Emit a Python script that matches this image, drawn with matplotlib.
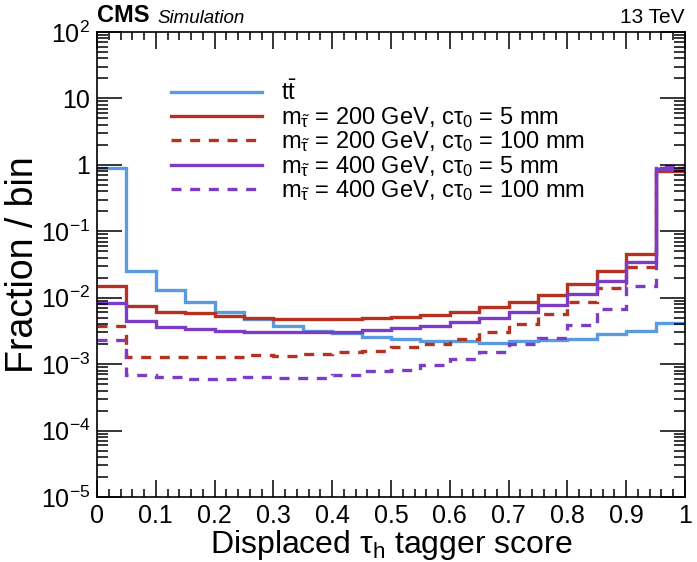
import numpy as np
import matplotlib
matplotlib.use("Agg")
import matplotlib.pyplot as plt
from matplotlib.ticker import FixedLocator, FuncFormatter, LogLocator, NullFormatter

plt.rcParams['font.family'] = ['Liberation Sans', 'DejaVu Sans']
plt.rcParams['mathtext.fontset'] = 'custom'
plt.rcParams['mathtext.rm'] = 'Liberation Sans'
plt.rcParams['mathtext.it'] = 'Liberation Sans'
plt.rcParams['mathtext.bf'] = 'Liberation Sans:bold'

# bin edges of the tagger score, 20 bins of 0.05
edges = np.linspace(0, 1, 21)

ttbar = [0.9, 0.025, 0.013, 0.0087, 0.006, 0.0047, 0.0038, 0.0032, 0.0029, 0.0026,
         0.0024, 0.0022, 0.0022, 0.0021, 0.0022, 0.0023, 0.0024, 0.0028, 0.0032, 0.0042]
m200_5mm = [0.015, 0.0074, 0.0062, 0.0059, 0.0053, 0.0049, 0.0048, 0.0047, 0.0047, 0.0049,
            0.0052, 0.0055, 0.0061, 0.0072, 0.0087, 0.011, 0.016, 0.025, 0.046, 0.81]
m200_100mm = [0.0038, 0.0013, 0.0013, 0.0013, 0.0013, 0.00135, 0.00132, 0.0014, 0.0015, 0.0016,
              0.0018, 0.0020, 0.0024, 0.003, 0.004, 0.0057, 0.0085, 0.014, 0.029, 0.91]
m400_5mm = [0.0082, 0.0044, 0.0036, 0.0034, 0.0032, 0.0031, 0.0031, 0.0031, 0.003, 0.0033,
            0.0035, 0.0038, 0.0043, 0.005, 0.0061, 0.0079, 0.0112, 0.018, 0.035, 0.87]
m400_100mm = [0.0023, 0.00068, 0.00064, 0.0006, 0.0006, 0.00064, 0.00062, 0.00062, 0.00068, 0.00079,
              0.00083, 0.00096, 0.0012, 0.0015, 0.002, 0.0025, 0.0039, 0.0067, 0.015, 0.96]

labels = [r"t$\bar{\mathrm{t}}$",
          r"m$_{\tilde{\tau}}$ = 200 GeV, c$\tau_0$ = 5 mm",
          r"m$_{\tilde{\tau}}$ = 200 GeV, c$\tau_0$ = 100 mm",
          r"m$_{\tilde{\tau}}$ = 400 GeV, c$\tau_0$ = 5 mm",
          r"m$_{\tilde{\tau}}$ = 400 GeV, c$\tau_0$ = 100 mm"]

blue = '#5a9be0'
red = '#b5321f'
purple = '#7d3cc6'

fig = plt.figure(figsize=(6.97, 5.62), dpi=100)
ax = fig.add_axes([97 / 697, 65 / 562, 588 / 697, 465 / 562])

lw = 2.4
dash = (0, (3, 2.6))
ax.stairs(ttbar, edges, baseline=None, color=blue, lw=lw, label=labels[0])
ax.stairs(m200_5mm, edges, baseline=None, color=red, lw=lw, label=labels[1])
ax.stairs(m200_100mm, edges, baseline=None, color=red, lw=lw, ls=dash, label=labels[2])
ax.stairs(m400_5mm, edges, baseline=None, color=purple, lw=lw, label=labels[3])
ax.stairs(m400_100mm, edges, baseline=None, color=purple, lw=lw, ls=dash, label=labels[4])

ax.set_yscale('log')
ax.set_xlim(0, 1)
ax.set_ylim(1e-5, 1e2)


def yfmt(v, pos):
    e = int(round(np.log10(v)))
    if e == 0:
        return "1"
    if e == 1:
        return "10"
    return r"$10^{%d}$" % e


ax.yaxis.set_major_locator(FixedLocator([10.0 ** k for k in range(-5, 3)]))
ax.yaxis.set_major_formatter(FuncFormatter(yfmt))
ax.yaxis.set_minor_locator(LogLocator(base=10, subs=np.arange(2, 10), numticks=20))
ax.yaxis.set_minor_formatter(NullFormatter())
ax.set_xticks(np.arange(0, 1.01, 0.1))
ax.set_xticklabels(["0", "0.1", "0.2", "0.3", "0.4", "0.5", "0.6", "0.7", "0.8", "0.9", "1"])
ax.set_xticks(np.arange(0, 1.001, 0.02), minor=True)

ax.tick_params(axis='both', which='both', direction='in', top=True, right=True, width=1.1)
ax.tick_params(axis='x', which='major', length=12, labelsize=18, pad=5)
ax.tick_params(axis='x', which='minor', length=6)
ax.tick_params(axis='y', which='major', length=18, labelsize=18, pad=5)
ax.tick_params(axis='y', which='minor', length=8)
for s in ax.spines.values():
    s.set_linewidth(1.2)

ax.set_xlabel(r"Displaced $\tau_\mathrm{h}$ tagger score", fontsize=23, labelpad=0)
ax.set_ylabel("Fraction / bin", fontsize=27, labelpad=0)

ax.text(0.0, 1.01, "CMS", transform=ax.transAxes, fontsize=17, fontweight='bold',
        ha='left', va='bottom')
ax.text(0.103, 1.01, "Simulation", transform=ax.transAxes, fontsize=13.5, style='italic',
        ha='left', va='bottom')
ax.text(1.0, 1.01, "13 TeV", transform=ax.transAxes, fontsize=15, ha='right', va='bottom')

ax.legend(loc='upper left', bbox_to_anchor=(0.11, 0.915), frameon=False, fontsize=17,
          handlelength=3.85, handletextpad=0.8, labelspacing=-0.02, borderaxespad=0)

fig.savefig("out.png", dpi=100)
